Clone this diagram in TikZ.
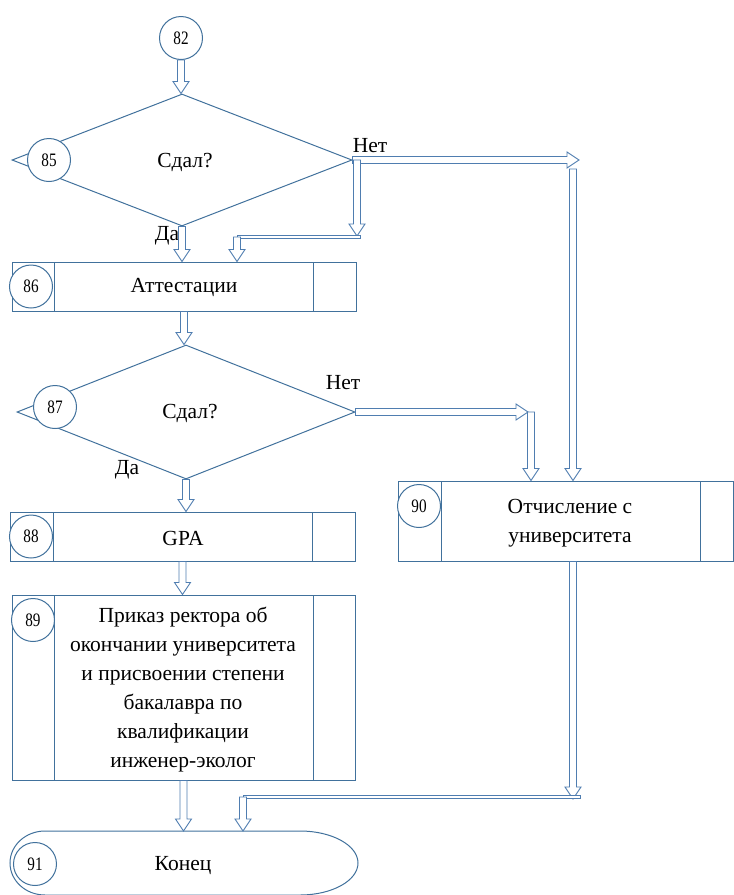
\documentclass[tikz,border=0pt]{standalone}
\usepackage{fontspec}
\setmainfont{Liberation Serif}
\newfontfamily\numfont[FakeStretch=0.8]{Liberation Serif}
\usetikzlibrary{shapes.geometric,calc}
\definecolor{lc}{HTML}{41719C}
\definecolor{ac}{HTML}{4F7DB0}
\tikzset{
  shp/.style={draw=lc, line width=1pt},
  boxn/.style={shp, rectangle, inner sep=0pt},
  numc/.style={circle, draw=lc, fill=white, line width=1pt, minimum size=43pt, inner sep=0pt, font=\numfont\fontsize{19}{19}\selectfont},
  txt/.style={font=\fontsize{21.5}{29}\selectfont, align=center, inner sep=0pt},
  arr/.style={draw=ac, line width=0.9pt, fill=white},
  band/.style={draw=ac, line width=0.8pt, fill=white},
}
\newcommand\varr[2]{\path[arr] let \p1=(#1), \p2=(#2) in (\x1-3.5pt,\y1) -- (\x1-3.5pt,\y2+12pt) -- (\x1-8pt,\y2+12pt) -- (\x1,\y2) -- (\x1+8pt,\y2+12pt) -- (\x1+3.5pt,\y2+12pt) -- (\x1+3.5pt,\y1) -- cycle;}
\newcommand\harr[2]{\path[arr] let \p1=(#1), \p2=(#2) in (\x1,\y1-3.5pt) -- (\x2-12pt,\y1-3.5pt) -- (\x2-12pt,\y1-8pt) -- (\x2,\y1) -- (\x2-12pt,\y1+8pt) -- (\x2-12pt,\y1+3.5pt) -- (\x1,\y1+3.5pt) -- cycle;}
\newcommand\hband[2]{\path[band] let \p1=(#1), \p2=(#2) in (\x1,\y1-1.8pt) rectangle (\x2,\y1+1.8pt);}
\begin{document}
\begin{tikzpicture}[x=1pt,y=-1pt]
\useasboundingbox (0,0) rectangle (734,895);
% diamonds
\node[diamond, shp, minimum width=340pt, minimum height=132pt, inner sep=0pt] (d1) at (182,160) {};
\node[diamond, shp, minimum width=338pt, minimum height=134pt, inner sep=0pt] (d2) at (186,412) {};
% boxes
\node[boxn, minimum width=344pt, minimum height=49pt] (b86) at (184,286.5) {};
\draw[shp] (54,262) -- (54,311) (313,262) -- (313,311);
\node[boxn, minimum width=345pt, minimum height=49pt] (b88) at (182.5,536.5) {};
\draw[shp] (53,512) -- (53,561) (312,512) -- (312,561);
\node[boxn, minimum width=343pt, minimum height=185pt] (b89) at (183.5,687.5) {};
\draw[shp] (54,595) -- (54,780) (313,595) -- (313,780);
\node[boxn, minimum width=335pt, minimum height=80pt] (b90) at (565.5,521) {};
\draw[shp] (441,481) -- (441,561) (700,481) -- (700,561);
% terminal
\draw[shp] (45,831) -- (300,831) arc[start angle=-90, end angle=90, x radius=58, y radius=32] -- (45,895) arc[start angle=90, end angle=270, x radius=35, y radius=32];
\coordinate (term) at (183,831);
% circles
\node[numc] (c82) at (181,38) {82};
\node[numc] (c85) at (49,160) {85};
\node[numc] (c86) at (31,286.5) {86};
\node[numc] (c87) at (55,407) {87};
\node[numc] (c88) at (31,536.5) {88};
\node[numc] (c89) at (33,620) {89};
\node[numc] (c90) at (419,506) {90};
\node[numc] (c91) at (35,864) {91};
% texts
\node[txt] (t1) at (185,162) {Сдал?};
\node[txt] (t86) at (184,287) {Аттестации};
\node[txt] (t2) at (190,413) {Сдал?};
\node[txt] (t88) at (183,538) {GPA};
\node[txt] (t89) at (183,689.5) {Приказ ректора об\\окончании университета\\и присвоении степени\\бакалавра по\\квалификации\\инженер-эколог};
\node[txt] (t90) at (570,523) {Отчисление с\\университета};
\node[txt] (t91) at (183,866) {Конец};
\node[txt] (no1) at (370,146) {Нет};
\node[txt] (yes1) at (167,236) {Да};
\node[txt] (no2) at (343,383) {Нет};
\node[txt] (yes2) at (127,470) {Да};
% coordinates
\coordinate (n1e) at (579,161);
\coordinate (j1) at (357,236);
\coordinate (j1b) at (360,237);
\coordinate (j2) at (237,237);
\coordinate (r1) at (573,169);
\coordinate (n2e) at (528,412);
\coordinate (k1) at (531,412);
\coordinate (j3) at (573,799);
\coordinate (j3b) at (580,797);
\coordinate (j4) at (243,797);
% connectors
\varr{c82.south}{c82.south |- d1.north}
\varr{d1.south}{d1.south |- b86.north}
\harr{d1.east}{n1e}
\varr{d1.east -| j1}{j1}
\hband{j2}{j1b}
\varr{j2}{j2 |- b86.north}
\varr{r1}{r1 |- b90.north}
\varr{b86.south}{b86.south |- d2.north}
\varr{d2.south}{d2.south |- b88.north}
\harr{d2.east}{n2e}
\varr{k1}{k1 |- b90.north}
\varr{b88.south}{b88.south |- b89.north}
\varr{b89.south}{term}
\varr{b90.south -| r1}{j3}
\hband{j4}{j3b}
\varr{j4}{j4 |- term}
\end{tikzpicture}
\end{document}
